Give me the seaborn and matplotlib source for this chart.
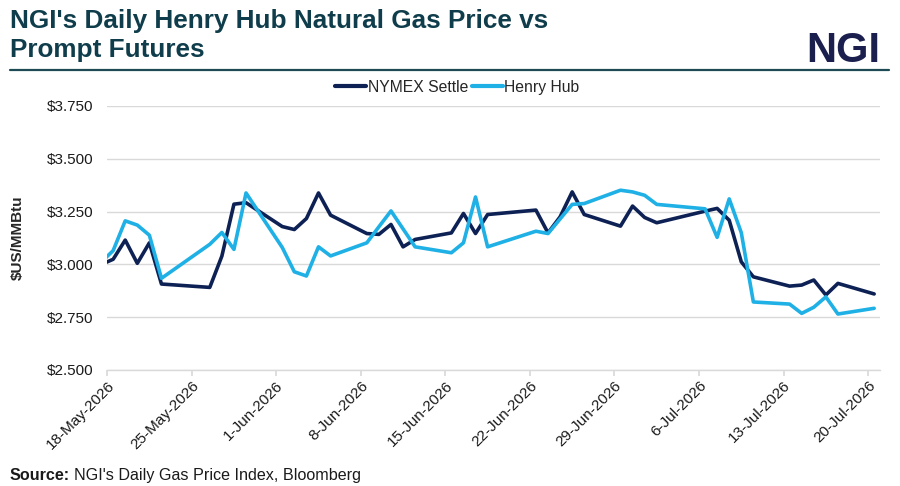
import pandas as pd
import matplotlib.pyplot as plt
import matplotlib.dates as mdates
import matplotlib.ticker as mticker
import seaborn as sns

# trading days (15-May sits just left of the axis and is clipped, as in the original)
dates = pd.to_datetime([
    '2026-05-15',
    '2026-05-18', '2026-05-19', '2026-05-20', '2026-05-21', '2026-05-22',
    '2026-05-26', '2026-05-27', '2026-05-28', '2026-05-29',
    '2026-06-01', '2026-06-02', '2026-06-03', '2026-06-04', '2026-06-05',
    '2026-06-08', '2026-06-09', '2026-06-10', '2026-06-11', '2026-06-12',
    '2026-06-15', '2026-06-16', '2026-06-17', '2026-06-18',
    '2026-06-22', '2026-06-23', '2026-06-24', '2026-06-25', '2026-06-26',
    '2026-06-29', '2026-06-30', '2026-07-01', '2026-07-02',
    '2026-07-06', '2026-07-07', '2026-07-08', '2026-07-09', '2026-07-10',
    '2026-07-13', '2026-07-14', '2026-07-15', '2026-07-16', '2026-07-17',
    '2026-07-20',
])

nymex_settle = [
    2.950,
    3.024, 3.115, 3.005, 3.102, 2.907,
    2.891, 3.039, 3.285, 3.292,
    3.179, 3.165, 3.217, 3.338, 3.233,
    3.146, 3.142, 3.189, 3.083, 3.118,
    3.149, 3.241, 3.146, 3.236,
    3.257, 3.149, 3.225, 3.343, 3.236,
    3.181, 3.276, 3.222, 3.197,
    3.252, 3.265, 3.209, 3.012, 2.941,
    2.897, 2.902, 2.926, 2.855, 2.910,
    2.860,
]

henry_hub = [
    2.900,
    3.065, 3.206, 3.186, 3.138, 2.934,
    3.095, 3.151, 3.071, 3.338,
    3.080, 2.965, 2.945, 3.083, 3.040,
    3.102, 3.178, 3.253, 3.168, 3.083,
    3.055, 3.102, 3.319, 3.083,
    3.157, 3.146, 3.215, 3.284, 3.288,
    3.351, 3.343, 3.327, 3.284,
    3.263, 3.128, 3.310, 3.150, 2.822,
    2.812, 2.768, 2.797, 2.846, 2.765,
    2.792,
]

series_names = ['NYMEX Settle', 'Henry Hub']
tick_dates = pd.date_range('2026-05-18', '2026-07-20', freq='7D')
y_ticks = [2.50, 2.75, 3.00, 3.25, 3.50, 3.75]

df = pd.DataFrame({
    'date': list(dates) * 2,
    'price': nymex_settle + henry_hub,
    'series': [series_names[0]] * len(dates) + [series_names[1]] * len(dates),
})
# Excel date axis puts each day's point in the middle of its slot
df['x'] = df['date'] + pd.Timedelta(hours=12)

sns.set_theme(style='white')
plt.rcParams['font.family'] = ['Liberation Sans', 'DejaVu Sans']

title_color = '#0f3d4b'
colors = {'NYMEX Settle': '#0d2155', 'Henry Hub': '#1fb0e5'}

fig = plt.figure(figsize=(9, 4.86), dpi=100)
ax = fig.add_axes([0.119, 0.2387, 0.859, 0.5433])

sns.lineplot(data=df, x='x', y='price', hue='series', palette=colors,
             linewidth=2.6, ax=ax)

ax.set_xlim(pd.Timestamp('2026-05-18'), pd.Timestamp('2026-07-21'))
ax.set_ylim(2.5, 3.75)
ax.set_yticks(y_ticks)
ax.yaxis.set_major_formatter(mticker.FuncFormatter(lambda v, p: f'${v:.3f}'))
ax.set_xticks(tick_dates)
ax.xaxis.set_major_formatter(mticker.FuncFormatter(
    lambda v, p: f"{mdates.num2date(v).day}-{mdates.num2date(v):%b-%Y}"))

ax.grid(axis='y', color='#d9d9d9', linewidth=1)
ax.grid(axis='x', visible=False)
for s in ['left', 'right', 'top']:
    ax.spines[s].set_visible(False)
ax.spines['bottom'].set_color('#d9d9d9')
ax.spines['bottom'].set_linewidth(1)

ax.tick_params(axis='y', length=0, pad=10, labelsize=11, labelcolor='#1a1a1a')
ax.tick_params(axis='x', length=4, color='#d9d9d9', direction='out',
               labelsize=11, labelcolor='#1a1a1a', bottom=True, pad=2)
for lab in ax.get_xticklabels():
    lab.set_rotation(45)
    lab.set_ha('right')
    lab.set_rotation_mode('anchor')

ax.set_xlabel('')
ax.set_ylabel('$US/MMBtu', fontsize=11, fontweight='bold')
ax.yaxis.set_label_coords(-0.106, 0.5)

leg = ax.legend(loc='lower center', bbox_to_anchor=(0.453, 1.0), ncol=2,
                frameon=False, fontsize=11.3, handlelength=2.0,
                handletextpad=0.1, columnspacing=0.2, borderaxespad=0.3)
for h in leg.get_lines():
    h.set_linewidth(3)

# header
fig.text(0.011, 0.982, "NGI's Daily Henry Hub Natural Gas Price vs\nPrompt Futures",
         ha='left', va='top', fontsize=18.8, fontweight='bold', color=title_color,
         linespacing=1.3)
fig.text(0.978, 0.872, 'NGI', ha='right', va='baseline', fontsize=30,
         fontweight='bold', color='#1b1f4d')
fig.add_artist(plt.Line2D([0.011, 0.988], [0.856, 0.856], transform=fig.transFigure,
                          color='#1d4a55', linewidth=1.6))

# source line: bold label followed by regular text
src = fig.text(0.011, 0.013, 'Source:', ha='left', va='baseline', fontsize=11.6,
               fontweight='bold', color='#1a1a1a')
fig.canvas.draw()
bb = src.get_window_extent(renderer=fig.canvas.get_renderer())
x_end = fig.transFigure.inverted().transform((bb.x1, bb.y0))[0]
fig.text(x_end + 0.004, 0.013, "NGI's Daily Gas Price Index, Bloomberg", ha='left',
         va='baseline', fontsize=11.6, color='#1a1a1a')

fig.savefig('out.png', dpi=100)
